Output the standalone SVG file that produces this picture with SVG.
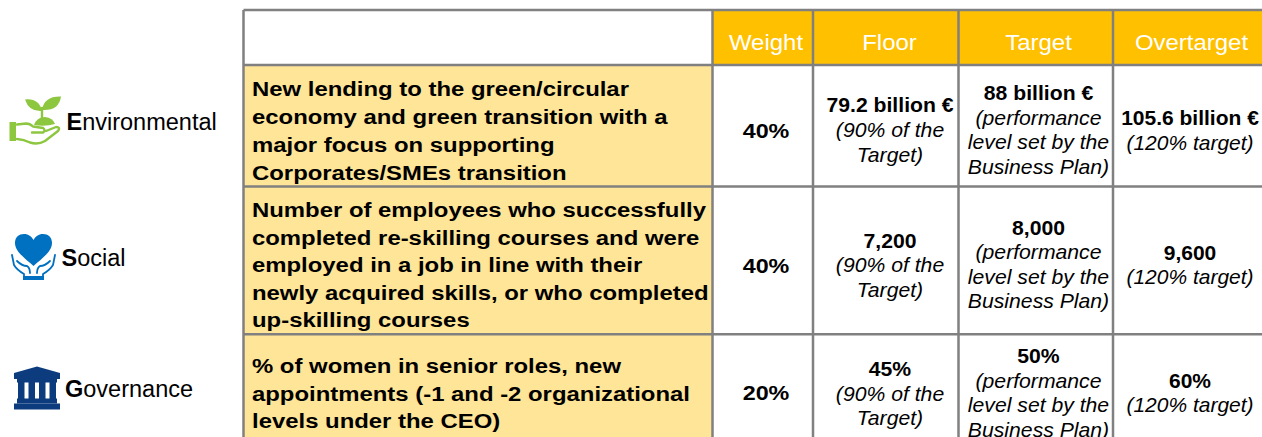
<svg xmlns="http://www.w3.org/2000/svg" width="1262" height="437" viewBox="0 0 1262 437">
<style>
text{font-family:"Liberation Sans",Arial,sans-serif;}
.cat{font-size:23.5px;fill:#000;}
.hd{font-size:22px;fill:#fff;text-anchor:middle;}
.lb{font-size:21px;font-weight:bold;fill:#000;}
.w{font-size:21px;font-weight:bold;fill:#000;text-anchor:middle;}
.v{font-size:20px;fill:#000;text-anchor:middle;}
.b{font-weight:bold;}
.i{font-style:italic;}
.grid{stroke:#808080;stroke-width:2.5;fill:none;}
.gr{fill:#8DC63F;}
.grs{fill:none;stroke:#8DC63F;stroke-width:2.4;stroke-linejoin:round;stroke-linecap:round;}
.bl{fill:#0070C0;}
.bls{fill:none;stroke:#0070C0;stroke-width:1.8;stroke-linejoin:round;stroke-linecap:round;}
.gv{fill:#0D3C7E;}
</style>
<rect width="1262" height="437" fill="#fff"/>

<!-- Category nodes -->
<g id="environmental">
  <rect class="gr" x="9.5" y="122" width="6.5" height="19"/>
  <path class="grs" d="M17,124.5 L26,123.5 Q30,123.5 33,126.5 L43,128 Q46,130 43,132.5 L32,132.5"/>
  <path class="grs" d="M17,139 Q24,139.5 30,142.5 Q38,145 45,141 L58,131 Q61,127 56,127 L46,131"/>
  <path class="gr" d="M34,125 Q37,117 45,117 Q53,118 55,124 Q45,127 34,125 Z"/>
  <path class="grs" d="M42,118 L42,108"/>
  <path class="gr" d="M42,111 Q29,112 25,99.5 Q39,98 42,111 Z"/>
  <path class="gr" d="M42,110 Q44,96 61,96.5 Q59,111 42,110 Z"/>
  <text class="cat" x="66.5" y="129.5"><tspan class="b">E</tspan>nvironmental</text>
</g>

<g id="social">
  <path class="bl" d="M33.5,266 C26,259 15,252 15,243 C15,237 19,234 24,234 C28.5,234 31.5,236.5 33.5,240 C35.5,236.5 38.5,234 43,234 C48,234 52,237 52,243 C52,252 41,259 33.5,266 Z"/>
  <path class="bls" d="M12,255 L14,265 Q17,270 24,274 L24,278"/>
  <path class="bls" d="M55,255 L53,265 Q50,270 43,274 L43,278"/>
  <path class="bls" d="M17,261 Q22,266 27,266 Q30,268 30,273"/>
  <path class="bls" d="M50,261 Q45,266 40,266 Q37,268 37,273"/>
  <rect class="bl" x="23" y="276" width="21" height="4"/>
  <text class="cat" x="61.5" y="266"><tspan class="b">S</tspan>ocial</text>
</g>

<g id="governance">
  <path class="gv" d="M14,379 L14,373 L37,366.5 L60,373 L60,379 Z"/>
  <rect class="gv" x="17" y="379" width="40" height="3.5"/>
  <rect class="gv" x="18" y="382" width="6.5" height="17"/>
  <rect class="gv" x="28.5" y="382" width="6.5" height="17"/>
  <rect class="gv" x="39" y="382" width="6.5" height="17"/>
  <rect class="gv" x="49.5" y="382" width="6.5" height="17"/>
  <rect class="gv" x="17" y="398.5" width="40" height="5"/>
  <rect class="gv" x="14" y="403.5" width="46" height="6"/>
  <text class="cat" x="65" y="396.5"><tspan class="b">G</tspan>overnance</text>
</g>

<!-- Table fills -->
<g id="table-fills">
  <rect x="712.5" y="10" width="560" height="55" fill="#FFC000"/>
  <rect x="243.5" y="65" width="469" height="380" fill="#FFE597"/>
</g>

<!-- Grid lines (connectors) -->
<g id="connectors" class="grid">
  <path d="M243.5,10 H1262 M243.5,65 H1262 M243.5,186.5 H1262 M243.5,334.3 H1262"/>
  <path d="M243.5,10 V437 M712.5,10 V437 M813,10 V437 M958.5,10 V437 M1113,10 V437"/>
</g>

<!-- Header -->
<g id="header">
  <g transform="translate(766,0) scale(1.09,1)"><text class="hd" x="0" y="50">Weight</text></g>
  <g transform="translate(889.5,0) scale(1.09,1)"><text class="hd" x="0" y="50">Floor</text></g>
  <g transform="translate(1038.5,0) scale(1.09,1)"><text class="hd" x="0" y="50">Target</text></g>
  <g transform="translate(1191.5,0) scale(1.09,1)"><text class="hd" x="0" y="50">Overtarget</text></g>
</g>

<!-- Row 1 -->
<g id="row-environmental">
  <g transform="translate(252,0) scale(1.138,1)"><text class="lb"><tspan x="0" y="96.5">New lending to the green/circular</tspan><tspan x="0" y="124.2">economy and green transition with a</tspan><tspan x="0" y="151.9">major focus on supporting</tspan><tspan x="0" y="179.6">Corporates/SMEs transition</tspan></text></g>
  <g transform="translate(766,0) scale(1.11,1)"><text class="w" x="0" y="138.5">40%</text></g>
  <g transform="translate(890,0) scale(1.06,1)"><text class="v"><tspan class="b" x="0" y="112">79.2 billion €</tspan><tspan class="i" x="0" y="137">(90% of the</tspan><tspan class="i" x="0" y="162">Target)</tspan></text></g>
  <g transform="translate(1038.5,0) scale(1.06,1)"><text class="v"><tspan class="b" x="0" y="100">88 billion €</tspan><tspan class="i" x="0" y="125">(performance</tspan><tspan class="i" x="0" y="149.5">level set by the</tspan><tspan class="i" x="0" y="174">Business Plan)</tspan></text></g>
  <g transform="translate(1190,0) scale(1.05,1)"><text class="v"><tspan class="b" x="0" y="125">105.6 billion €</tspan><tspan class="i" x="0" y="150">(120% target)</tspan></text></g>
</g>

<!-- Row 2 -->
<g id="row-social">
  <g transform="translate(252,0) scale(1.138,1)"><text class="lb"><tspan x="0" y="217.5">Number of employees who successfully</tspan><tspan x="0" y="245">completed re-skilling courses and were</tspan><tspan x="0" y="272.5">employed in a job in line with their</tspan><tspan x="0" y="300">newly acquired skills, or who completed</tspan><tspan x="0" y="327.3">up-skilling courses</tspan></text></g>
  <g transform="translate(766,0) scale(1.11,1)"><text class="w" x="0" y="273.3">40%</text></g>
  <g transform="translate(890,0) scale(1.06,1)"><text class="v"><tspan class="b" x="0" y="248.3">7,200</tspan><tspan class="i" x="0" y="272.3">(90% of the</tspan><tspan class="i" x="0" y="296.7">Target)</tspan></text></g>
  <g transform="translate(1038.5,0) scale(1.06,1)"><text class="v"><tspan class="b" x="0" y="235">8,000</tspan><tspan class="i" x="0" y="259.5">(performance</tspan><tspan class="i" x="0" y="284">level set by the</tspan><tspan class="i" x="0" y="308.3">Business Plan)</tspan></text></g>
  <g transform="translate(1190,0) scale(1.05,1)"><text class="v"><tspan class="b" x="0" y="260">9,600</tspan><tspan class="i" x="0" y="284">(120% target)</tspan></text></g>
</g>

<!-- Row 3 -->
<g id="row-governance">
  <g transform="translate(252,0) scale(1.138,1)"><text class="lb"><tspan x="0" y="373.3">% of women in senior roles, new</tspan><tspan x="0" y="400.6">appointments (-1 and -2 organizational</tspan><tspan x="0" y="428">levels under the CEO)</tspan></text></g>
  <g transform="translate(766,0) scale(1.11,1)"><text class="w" x="0" y="400">20%</text></g>
  <g transform="translate(890,0) scale(1.06,1)"><text class="v"><tspan class="b" x="0" y="376">45%</tspan><tspan class="i" x="0" y="400.7">(90% of the</tspan><tspan class="i" x="0" y="425">Target)</tspan></text></g>
  <g transform="translate(1038.5,0) scale(1.06,1)"><text class="v"><tspan class="b" x="0" y="363.3">50%</tspan><tspan class="i" x="0" y="388.3">(performance</tspan><tspan class="i" x="0" y="412.5">level set by the</tspan><tspan class="i" x="0" y="436.7">Business Plan)</tspan></text></g>
  <g transform="translate(1190,0) scale(1.05,1)"><text class="v"><tspan class="b" x="0" y="388.3">60%</tspan><tspan class="i" x="0" y="412.5">(120% target)</tspan></text></g>
</g>
</svg>
